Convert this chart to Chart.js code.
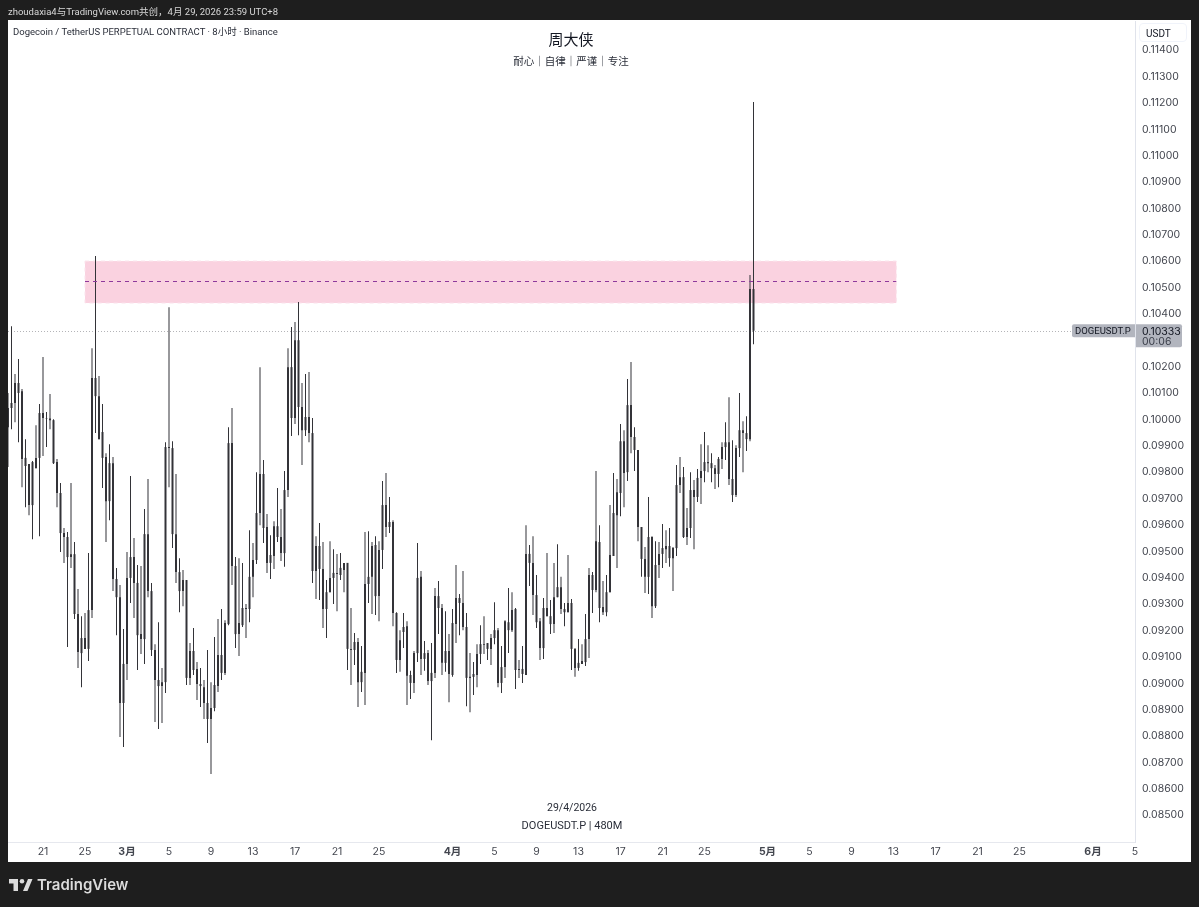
<!DOCTYPE html>
<html>
<head>
<meta charset="utf-8">
<title>DOGEUSDT.P</title>
<script src="https://cdn.jsdelivr.net/npm/chart.js@4/dist/chart.umd.min.js"></script>
<style>
  html, body { margin: 0; padding: 0; background: #1e1e1e; }
  body { width: 1199px; height: 907px; position: relative; overflow: hidden; font-family: Roboto, "Noto Sans CJK SC", sans-serif; }
  canvas { position: absolute; left: 0; top: 0; }
  .txt { position: absolute; white-space: nowrap; line-height: 14px; }
  .mid { transform: translateX(-50%); }
  #usdt { left: 1139px; top: 23px; width: 48px; height: 19px; line-height: 19px; border: 1px solid #f0f3fa; border-radius: 4px; box-sizing: border-box; padding-left: 6px; font-size: 10px; color: #131722; }
  #brand { left: 37px; top: 874px; font-family: Inter, sans-serif; font-size: 15px; line-height: 22px; font-weight: 600; color: #dcdcdc; }
</style>
</head>
<body>
<canvas id="priceChart" width="1199" height="907"></canvas>

<div class="txt" style="left:8px;top:5px;font-size:9.5px;color:#d8d8d8">zhoudaxia4与TradingView.com共创，4月 29, 2026 23:59 UTC+8</div>
<div class="txt" style="left:13px;top:25px;font-size:9.5px;color:#2a2e39">Dogecoin / TetherUS PERPETUAL CONTRACT · 8小时 · Binance</div>
<div class="txt mid" style="left:571px;top:32px;font-size:15px;line-height:17px;color:#131722">周大侠</div>
<div class="txt mid" style="left:571px;top:55px;font-size:10.5px;color:#2a2e39">耐心｜自律｜严谨｜专注</div>
<div class="txt mid" style="left:572px;top:801px;font-size:10.5px;color:#2a2e39">29/4/2026</div>
<div class="txt mid" style="left:572px;top:819px;font-size:11px;color:#2a2e39">DOGEUSDT.P | 480M</div>
<div class="txt" id="usdt">USDT</div>
<svg style="position:absolute;left:9px;top:879px" width="24" height="13" viewBox="0 0 24 13">
  <path d="M0 0H9V12H4.5V4.5H0Z M14 12L19 0H23.5L18.5 12Z" fill="#dcdcdc"/>
  <circle cx="13" cy="2.3" r="2.3" fill="#dcdcdc"/>
</svg>
<div class="txt" id="brand">TradingView</div>

<script>
// 8h candles, left to right
const opens = [
  0.09967,0.10040,0.10059,0.10135,0.10104,0.09851,0.09828,0.09672,0.09812,0.09851,
  0.10021,0.10002,0.10000,0.09994,0.09835,0.09718,0.09566,0.09551,0.09475,0.09486,
  0.09259,0.09168,0.09168,0.09127,0.09274,0.10154,0.10085,0.09949,0.09854,0.09687,
  0.09831,0.09392,0.09323,0.08922,0.09070,0.09396,0.09475,0.09377,0.09183,0.09164,
  0.09562,0.09346,0.09123,0.09009,0.08986,0.09001,0.09892,0.09888,0.09562,0.09418,
  0.09346,0.09388,0.09017,0.09119,0.09051,0.08994,0.08982,0.08922,0.08861,0.08903,
  0.08986,0.09104,0.09036,0.09221,0.09907,0.09441,0.09183,0.09217,0.09282,0.09278,
  0.09400,0.09464,0.09642,0.09790,0.09589,0.09453,0.09479,0.09592,0.09551,0.09490,
  0.09729,0.10195,0.10002,0.10297,0.10044,0.09956,0.10006,0.09945,0.09422,0.09517,
  0.09430,0.09278,0.09342,0.09396,0.09415,0.09407,0.09426,0.09453,0.09127,0.09123,
  0.09153,0.09001,0.09036,0.09373,0.09400,0.09521,0.09327,0.09502,0.09672,0.09589,
  0.09608,0.09263,0.09085,0.09191,0.09213,0.09028,0.08998,0.09111,0.09400,0.09089,
  0.09111,0.09005,0.09036,0.09327,0.09282,0.09074,0.09119,0.09028,0.09221,0.09320,
  0.09301,0.09210,0.09017,0.09021,0.09028,0.09108,0.09145,0.09149,0.09127,0.09168,
  0.09198,0.08998,0.09058,0.09228,0.09198,0.09278,0.09047,0.09051,0.09028,0.09487,
  0.09453,0.09331,0.09232,0.09130,0.09282,0.09251,0.09221,0.09323,0.09361,0.09278,
  0.09266,0.09301,0.09127,0.09055,0.09070,0.09077,0.09164,0.09407,0.09350,0.09532,
  0.09286,0.09266,0.09342,0.09479,0.09634,0.09718,0.09914,0.09797,0.10051,0.09930,
  0.09881,0.09589,0.09468,0.09400,0.09551,0.09289,0.09445,0.09487,0.09505,0.09517,
  0.09471,0.09509,0.09748,0.09778,0.09551,0.09585,0.09729,0.09703,0.09775,0.09801,
  0.09835,0.09831,0.09812,0.09790,0.09847,0.09892,0.09910,0.09771,0.09710,0.09888,
  0.09956,0.09945,0.09922,0.10491
];
const highs = [
  0.10097,0.10350,0.10169,0.10226,0.10112,0.09922,0.09828,0.09839,0.09975,0.10055,
  0.10233,0.10025,0.10093,0.09997,0.09847,0.09756,0.09585,0.09570,0.09756,0.09532,
  0.09354,0.09251,0.09263,0.09490,0.10267,0.10616,0.10161,0.10055,0.09869,0.09903,
  0.09854,0.09434,0.09369,0.09202,0.09494,0.09782,0.09547,0.09445,0.09441,0.09657,
  0.09771,0.09377,0.09145,0.09228,0.09055,0.09910,0.10422,0.09914,0.09790,0.09471,
  0.09426,0.09388,0.09149,0.09206,0.09077,0.09055,0.09009,0.09123,0.09001,0.09172,
  0.09240,0.09278,0.09236,0.09967,0.10040,0.09475,0.09471,0.09453,0.09297,0.09577,
  0.09528,0.09797,0.10195,0.09843,0.09638,0.09558,0.09611,0.09737,0.09657,0.09801,
  0.10267,0.10347,0.10366,0.10442,0.10135,0.10169,0.10177,0.10002,0.09554,0.09604,
  0.09532,0.09388,0.09535,0.09505,0.09487,0.09490,0.09453,0.09453,0.09282,0.09187,
  0.09168,0.09138,0.09570,0.09573,0.09532,0.09554,0.09535,0.09763,0.09794,0.09703,
  0.09615,0.09266,0.09198,0.09263,0.09232,0.09044,0.09119,0.09528,0.09422,0.09157,
  0.09123,0.09149,0.09358,0.09384,0.09297,0.09270,0.09183,0.09278,0.09445,0.09335,
  0.09422,0.09263,0.09111,0.09077,0.09145,0.09217,0.09251,0.09149,0.09183,0.09304,
  0.09206,0.09138,0.09236,0.09358,0.09342,0.09282,0.09085,0.09138,0.09596,0.09521,
  0.09554,0.09407,0.09244,0.09320,0.09490,0.09312,0.09453,0.09524,0.09400,0.09301,
  0.09483,0.09316,0.09130,0.09164,0.09145,0.09259,0.09434,0.09418,0.09801,0.09596,
  0.09384,0.09407,0.09672,0.09794,0.09771,0.09979,0.09956,0.10150,0.10214,0.09967,
  0.09881,0.09589,0.09513,0.09703,0.09554,0.09535,0.09532,0.09600,0.09577,0.09585,
  0.09513,0.09824,0.09854,0.09816,0.09661,0.09797,0.09767,0.09809,0.09903,0.09949,
  0.09899,0.09869,0.09824,0.09854,0.09910,0.09986,0.10081,0.09918,0.09899,0.10097,
  0.09990,0.10009,0.10544,0.11200
];
const lows = [
  0.09816,0.09960,0.09986,0.09910,0.09740,0.09664,0.09634,0.09543,0.09812,0.09554,
  0.09858,0.09892,0.09960,0.09828,0.09664,0.09494,0.09453,0.09134,0.09434,0.09240,
  0.09055,0.08982,0.09127,0.09081,0.09244,0.09945,0.09922,0.09737,0.09532,0.09615,
  0.09346,0.09179,0.08793,0.08755,0.09009,0.09301,0.09244,0.09047,0.09108,0.09070,
  0.09323,0.09100,0.08850,0.08823,0.08846,0.08960,0.09740,0.09509,0.09377,0.09266,
  0.09289,0.08990,0.08990,0.09028,0.08933,0.08907,0.08861,0.08770,0.08653,0.08891,
  0.08964,0.09009,0.09028,0.09217,0.09369,0.09130,0.09100,0.09210,0.09168,0.09228,
  0.09323,0.09449,0.09596,0.09528,0.09415,0.09392,0.09430,0.09532,0.09460,0.09438,
  0.09703,0.09934,0.09979,0.09937,0.09824,0.09934,0.09910,0.09377,0.09316,0.09312,
  0.09206,0.09168,0.09342,0.09297,0.09270,0.09388,0.09342,0.09047,0.08990,0.09066,
  0.08907,0.08964,0.08914,0.09301,0.09259,0.09255,0.09232,0.09430,0.09551,0.09566,
  0.09213,0.09036,0.09040,0.09130,0.08914,0.08937,0.08960,0.09077,0.09028,0.09044,
  0.08990,0.08781,0.09017,0.09183,0.09028,0.09040,0.08925,0.09021,0.09149,0.09179,
  0.09198,0.08910,0.08887,0.08952,0.08982,0.09070,0.09108,0.09085,0.09066,0.09145,
  0.08982,0.08960,0.09017,0.09111,0.09191,0.08975,0.09017,0.08998,0.09028,0.09365,
  0.09255,0.09206,0.09085,0.09089,0.09251,0.09183,0.09187,0.09323,0.09259,0.09213,
  0.09266,0.09047,0.09021,0.09044,0.09070,0.09062,0.09092,0.09263,0.09342,0.09228,
  0.09255,0.09251,0.09342,0.09479,0.09434,0.09630,0.09664,0.09763,0.09869,0.09801,
  0.09535,0.09400,0.09339,0.09335,0.09244,0.09282,0.09396,0.09434,0.09453,0.09438,
  0.09346,0.09479,0.09718,0.09547,0.09521,0.09547,0.09505,0.09684,0.09676,0.09759,
  0.09797,0.09759,0.09733,0.09740,0.09809,0.09843,0.09748,0.09684,0.09703,0.09854,
  0.09797,0.09877,0.09914,0.10282
];
const closes = [
  0.10040,0.10059,0.10135,0.10097,0.09847,0.09820,0.09672,0.09835,0.09851,0.10021,
  0.10002,0.10000,0.09994,0.09831,0.09718,0.09566,0.09551,0.09475,0.09486,0.09259,
  0.09115,0.09111,0.09127,0.09274,0.10154,0.10085,0.09922,0.09851,0.09687,0.09831,
  0.09392,0.09323,0.08922,0.09070,0.09396,0.09475,0.09377,0.09179,0.09164,0.09562,
  0.09346,0.09123,0.09009,0.08986,0.09001,0.09892,0.09888,0.09562,0.09418,0.09346,
  0.09388,0.09017,0.09119,0.09047,0.08994,0.08986,0.08922,0.08861,0.08903,0.08990,
  0.09104,0.09036,0.09225,0.09907,0.09441,0.09183,0.09225,0.09282,0.09278,0.09400,
  0.09464,0.09642,0.09790,0.09585,0.09453,0.09483,0.09592,0.09551,0.09490,0.09729,
  0.10195,0.10002,0.10297,0.10044,0.09956,0.10006,0.09945,0.09422,0.09517,0.09430,
  0.09278,0.09342,0.09396,0.09415,0.09411,0.09434,0.09453,0.09127,0.09123,0.09153,
  0.09001,0.09040,0.09373,0.09400,0.09517,0.09327,0.09502,0.09672,0.09589,0.09608,
  0.09263,0.09085,0.09160,0.09210,0.09025,0.08998,0.09111,0.09396,0.09089,0.09111,
  0.09005,0.09036,0.09327,0.09282,0.09074,0.09119,0.09032,0.09225,0.09320,0.09301,
  0.09210,0.09017,0.09021,0.09032,0.09108,0.09145,0.09142,0.09127,0.09168,0.09198,
  0.08998,0.09058,0.09232,0.09198,0.09274,0.09047,0.09051,0.09032,0.09487,0.09453,
  0.09331,0.09228,0.09130,0.09282,0.09251,0.09221,0.09323,0.09361,0.09278,0.09266,
  0.09301,0.09127,0.09055,0.09074,0.09081,0.09164,0.09407,0.09350,0.09535,0.09282,
  0.09266,0.09342,0.09483,0.09642,0.09721,0.09914,0.09794,0.10051,0.09930,0.09881,
  0.09589,0.09468,0.09400,0.09551,0.09289,0.09445,0.09487,0.09509,0.09517,0.09471,
  0.09509,0.09748,0.09778,0.09551,0.09585,0.09729,0.09703,0.09775,0.09801,0.09835,
  0.09831,0.09812,0.09790,0.09847,0.09892,0.09910,0.09771,0.09710,0.09888,0.09956,
  0.09945,0.09922,0.10491,0.10333
];

// tick labels sit on bar numbers (3 bars a day)
const timeTickBars = [10,22,34,46,58,70,82,94,106,127,139,151,163,175,187,199,217,229,241,253,265,277,289,310,322];
const timeTickLabels = ['21','25','3月','5','9','13','17','21','25','4月','5','9','13','17','21','25','5月','5','9','13','17','21','25','6月','5'];
const priceTicks = [0.085,0.086,0.087,0.088,0.089,0.09,0.091,0.092,0.093,0.094,0.095,0.096,0.097,0.098,0.099,0.1,0.101,0.102,0.103,0.104,0.105,0.106,0.107,0.108,0.109,0.11,0.111,0.112,0.113,0.114];

// pink zone and last price
const zoneBars = [22, 253.8];
const zonePrices = [0.10597, 0.10438];
const zoneMid = 0.1052;
const lastPrice = 0.10333;

// all candles are the same black, half pixel steps make every other one look grey
const CANDLE = '#333338';

const overlay = {
  id: 'overlay',
  beforeDraw(chart) {
    const c = chart.ctx;
    c.save();
    c.fillStyle = '#ffffff';
    c.fillRect(8, 20, 1183, 842);
    c.restore();
  },
  beforeDatasetsDraw(chart) {
    const c = chart.ctx, a = chart.chartArea, x = chart.scales.x, y = chart.scales.y;
    const x0 = x.getPixelForValue(zoneBars[0]), x1 = x.getPixelForValue(zoneBars[1]);
    const y0 = y.getPixelForValue(zonePrices[0]), y1 = y.getPixelForValue(zonePrices[1]);
    c.save();
    c.fillStyle = '#fad2e0';
    c.fillRect(x0, y0, x1 - x0, y1 - y0);
    c.strokeStyle = '#fbe3ec';
    c.setLineDash([4, 4]);
    c.strokeRect(x0, y0, x1 - x0, y1 - y0);
    // last price line
    const py = Math.round(y.getPixelForValue(lastPrice)) + 0.5;
    c.strokeStyle = '#b4b4b8';
    c.setLineDash([1, 2]);
    c.beginPath();
    c.moveTo(a.left, py);
    c.lineTo(a.right, py);
    c.stroke();
    c.restore();
  },
  afterDatasetsDraw(chart) {
    const c = chart.ctx, x = chart.scales.x, y = chart.scales.y;
    const my = Math.round(y.getPixelForValue(zoneMid)) + 0.5;
    c.save();
    c.strokeStyle = '#8e3a9c';
    c.setLineDash([4, 4]);
    c.beginPath();
    c.moveTo(x.getPixelForValue(zoneBars[0]), my);
    c.lineTo(x.getPixelForValue(zoneBars[1]), my);
    c.stroke();
    c.restore();
  },
  afterDraw(chart) {
    const c = chart.ctx, y = chart.scales.y;
    const py = y.getPixelForValue(lastPrice);
    c.save();
    c.fillStyle = '#b2b5be';
    c.beginPath();
    c.roundRect(1072, py - 6.5, 63, 13, [2, 0, 0, 2]);
    c.fill();
    c.beginPath();
    c.roundRect(1136, py - 6.5, 46, 23, [0, 2, 2, 0]);
    c.fill();
    c.fillStyle = '#131722';
    c.font = '9.5px Roboto, sans-serif';
    c.textBaseline = 'middle';
    c.fillText('DOGEUSDT.P', 1075, py + 0.5);
    c.font = '10.5px Inter, sans-serif';
    c.fillText(lastPrice.toFixed(5), 1142, py + 1);
    c.fillStyle = '#3a3e49';
    c.fillText('00:06', 1142, py + 11);
    c.restore();
  }
};

new Chart(document.getElementById('priceChart').getContext('2d'), {
  type: 'bar',
  data: {
    datasets: [
      {
        label: 'Body',
        data: opens.map((o, i) => ({ x: i, y: [o, closes[i]] })),
        backgroundColor: CANDLE,
        barThickness: 2,
        inflateAmount: 0,
        grouped: false
      },
      {
        label: 'Wick',
        data: opens.map((o, i) => ({ x: i, y: [lows[i], highs[i]] })),
        backgroundColor: CANDLE,
        barThickness: 1,
        inflateAmount: 0,
        grouped: false
      }
    ]
  },
  options: {
    responsive: false,
    animation: false,
    devicePixelRatio: 1,
    layout: { padding: { left: 8, top: 21, right: 8, bottom: 45 } },
    plugins: { legend: { display: false }, tooltip: { enabled: false } },
    scales: {
      x: {
        type: 'linear',
        offset: false,
        min: 0,
        max: 322,
        grid: { display: false, offset: false, drawTicks: false },
        border: { color: '#e6e8ee' },
        afterFit(scale) { scale.height = 20; },
        afterBuildTicks(scale) { scale.ticks = timeTickBars.map(v => ({ value: v })); },
        ticks: {
          autoSkip: false,
          maxRotation: 0,
          padding: 4,
          color: '#43464f',
          font: ctx => ({ family: 'Inter, "Noto Sans CJK SC"', size: 10.5, weight: String(timeTickLabels[ctx.index]).includes('月') ? 'bold' : 'normal' }),
          callback: (v, i) => timeTickLabels[i]
        }
      },
      y: {
        position: 'right',
        min: 0.08395,
        max: 0.11507,
        grid: { display: false, drawTicks: false },
        border: { color: '#e0e3eb' },
        afterFit(scale) { scale.width = 56; },
        afterBuildTicks(scale) { scale.ticks = priceTicks.map(v => ({ value: v })); },
        ticks: {
          autoSkip: false,
          padding: 7,
          labelOffset: 1,
          color: '#43464f',
          font: { family: 'Inter', size: 10.5 },
          callback: v => v.toFixed(5)
        }
      }
    }
  },
  plugins: [overlay]
});
</script>
</body>
</html>
